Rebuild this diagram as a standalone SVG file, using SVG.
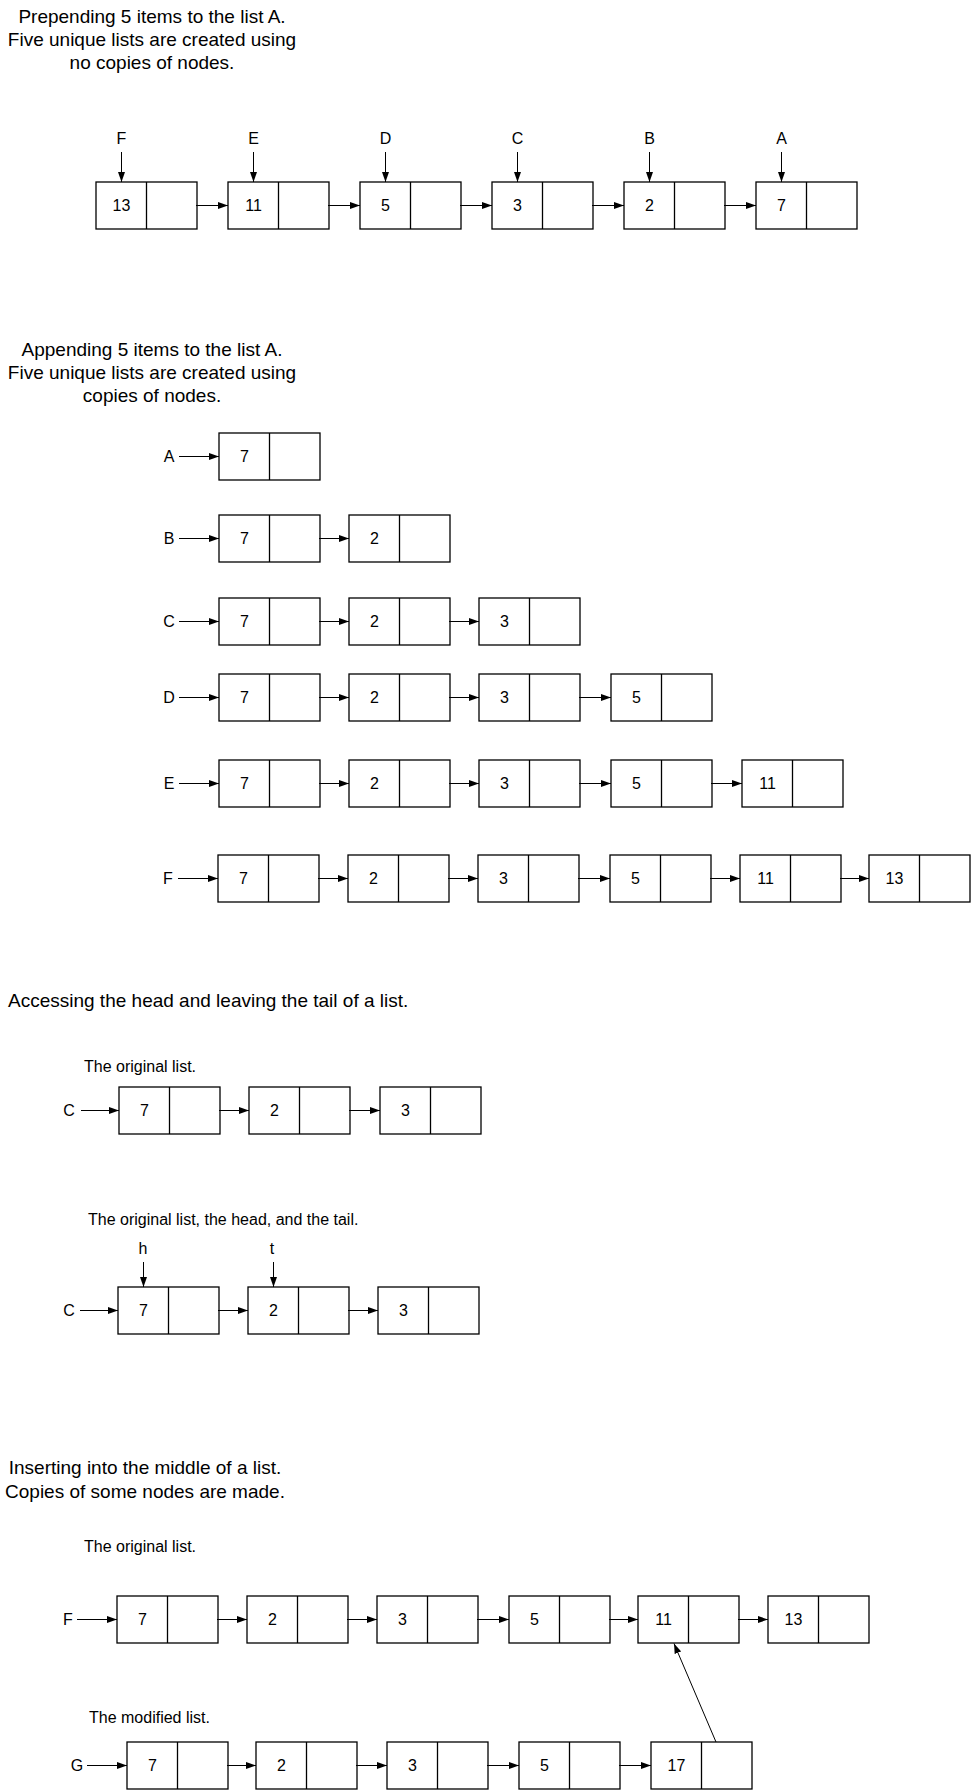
<svg xmlns="http://www.w3.org/2000/svg" width="971" height="1790" viewBox="0 0 971 1790">
<defs>
<marker id="ah" markerWidth="11" markerHeight="8" refX="10" refY="4" orient="auto" markerUnits="userSpaceOnUse">
<path d="M0,0.5 L10,4 L0,7.5 z" fill="#000"/>
</marker>
<style>
text{font-family:"Liberation Sans",Arial,Helvetica,sans-serif;fill:#000}
.t{font-size:19px}
.s{font-size:16px}
.n rect{fill:#fff;stroke:#000;stroke-width:1.3}
.n line{stroke:#000;stroke-width:1.3}
.n text{font-size:16px;text-anchor:middle}
.lbl{font-size:16px;text-anchor:middle}
.c line{stroke:#000;stroke-width:1;marker-end:url(#ah)}
</style>
</defs>
<rect width="971" height="1790" fill="#fff"/>

<!-- Titles -->
<g id="titles">
<text class="t" x="152" y="23" text-anchor="middle">Prepending 5 items to the list A.</text>
<text class="t" x="152" y="46" text-anchor="middle">Five unique lists are created using</text>
<text class="t" x="152" y="69" text-anchor="middle">no copies of nodes.</text>
<text class="t" x="152" y="356" text-anchor="middle">Appending 5 items to the list A.</text>
<text class="t" x="152" y="379" text-anchor="middle">Five unique lists are created using</text>
<text class="t" x="152" y="402" text-anchor="middle">copies of nodes.</text>
<text class="t" x="8" y="1007">Accessing the head and leaving the tail of a list.</text>
<text class="s" x="84" y="1072">The original list.</text>
<text class="s" x="88" y="1225">The original list, the head, and the tail.</text>
<text class="t" x="145" y="1474" text-anchor="middle">Inserting into the middle of a list.</text>
<text class="t" x="145" y="1498" text-anchor="middle">Copies of some nodes are made.</text>
<text class="s" x="84" y="1552">The original list.</text>
<text class="s" x="89" y="1723">The modified list.</text>
</g>

<!-- Section 1 -->
<g id="s1-labels">
<text class="lbl" x="121.5" y="144">F</text>
<text class="lbl" x="253.5" y="144">E</text>
<text class="lbl" x="385.5" y="144">D</text>
<text class="lbl" x="517.5" y="144">C</text>
<text class="lbl" x="649.5" y="144">B</text>
<text class="lbl" x="781.5" y="144">A</text>
</g>
<g id="s1-n13" class="n" transform="translate(96,182)"><rect width="101" height="47"/><line x1="50.5" y1="0" x2="50.5" y2="47"/><text x="25.5" y="29">13</text></g>
<g id="s1-n11" class="n" transform="translate(228,182)"><rect width="101" height="47"/><line x1="50.5" y1="0" x2="50.5" y2="47"/><text x="25.5" y="29">11</text></g>
<g id="s1-n5" class="n" transform="translate(360,182)"><rect width="101" height="47"/><line x1="50.5" y1="0" x2="50.5" y2="47"/><text x="25.5" y="29">5</text></g>
<g id="s1-n3" class="n" transform="translate(492,182)"><rect width="101" height="47"/><line x1="50.5" y1="0" x2="50.5" y2="47"/><text x="25.5" y="29">3</text></g>
<g id="s1-n2" class="n" transform="translate(624,182)"><rect width="101" height="47"/><line x1="50.5" y1="0" x2="50.5" y2="47"/><text x="25.5" y="29">2</text></g>
<g id="s1-n7" class="n" transform="translate(756,182)"><rect width="101" height="47"/><line x1="50.5" y1="0" x2="50.5" y2="47"/><text x="25.5" y="29">7</text></g>

<!-- Section 2 -->
<g id="s2-labels">
<text class="lbl" x="169" y="461.5">A</text>
<text class="lbl" x="169" y="543.5">B</text>
<text class="lbl" x="169" y="626.5">C</text>
<text class="lbl" x="169" y="702.5">D</text>
<text class="lbl" x="169" y="788.5">E</text>
<text class="lbl" x="168" y="883.5">F</text>
</g>
<g id="s2-A1" class="n" transform="translate(219,433)"><rect width="101" height="47"/><line x1="50.5" y1="0" x2="50.5" y2="47"/><text x="25.5" y="29">7</text></g>

<g id="s2-B1" class="n" transform="translate(219,515)"><rect width="101" height="47"/><line x1="50.5" y1="0" x2="50.5" y2="47"/><text x="25.5" y="29">7</text></g>
<g id="s2-B2" class="n" transform="translate(349,515)"><rect width="101" height="47"/><line x1="50.5" y1="0" x2="50.5" y2="47"/><text x="25.5" y="29">2</text></g>

<g id="s2-C1" class="n" transform="translate(219,598)"><rect width="101" height="47"/><line x1="50.5" y1="0" x2="50.5" y2="47"/><text x="25.5" y="29">7</text></g>
<g id="s2-C2" class="n" transform="translate(349,598)"><rect width="101" height="47"/><line x1="50.5" y1="0" x2="50.5" y2="47"/><text x="25.5" y="29">2</text></g>
<g id="s2-C3" class="n" transform="translate(479,598)"><rect width="101" height="47"/><line x1="50.5" y1="0" x2="50.5" y2="47"/><text x="25.5" y="29">3</text></g>

<g id="s2-D1" class="n" transform="translate(219,674)"><rect width="101" height="47"/><line x1="50.5" y1="0" x2="50.5" y2="47"/><text x="25.5" y="29">7</text></g>
<g id="s2-D2" class="n" transform="translate(349,674)"><rect width="101" height="47"/><line x1="50.5" y1="0" x2="50.5" y2="47"/><text x="25.5" y="29">2</text></g>
<g id="s2-D3" class="n" transform="translate(479,674)"><rect width="101" height="47"/><line x1="50.5" y1="0" x2="50.5" y2="47"/><text x="25.5" y="29">3</text></g>
<g id="s2-D4" class="n" transform="translate(611,674)"><rect width="101" height="47"/><line x1="50.5" y1="0" x2="50.5" y2="47"/><text x="25.5" y="29">5</text></g>

<g id="s2-E1" class="n" transform="translate(219,760)"><rect width="101" height="47"/><line x1="50.5" y1="0" x2="50.5" y2="47"/><text x="25.5" y="29">7</text></g>
<g id="s2-E2" class="n" transform="translate(349,760)"><rect width="101" height="47"/><line x1="50.5" y1="0" x2="50.5" y2="47"/><text x="25.5" y="29">2</text></g>
<g id="s2-E3" class="n" transform="translate(479,760)"><rect width="101" height="47"/><line x1="50.5" y1="0" x2="50.5" y2="47"/><text x="25.5" y="29">3</text></g>
<g id="s2-E4" class="n" transform="translate(611,760)"><rect width="101" height="47"/><line x1="50.5" y1="0" x2="50.5" y2="47"/><text x="25.5" y="29">5</text></g>
<g id="s2-E5" class="n" transform="translate(742,760)"><rect width="101" height="47"/><line x1="50.5" y1="0" x2="50.5" y2="47"/><text x="25.5" y="29">11</text></g>

<g id="s2-F1" class="n" transform="translate(218,855)"><rect width="101" height="47"/><line x1="50.5" y1="0" x2="50.5" y2="47"/><text x="25.5" y="29">7</text></g>
<g id="s2-F2" class="n" transform="translate(348,855)"><rect width="101" height="47"/><line x1="50.5" y1="0" x2="50.5" y2="47"/><text x="25.5" y="29">2</text></g>
<g id="s2-F3" class="n" transform="translate(478,855)"><rect width="101" height="47"/><line x1="50.5" y1="0" x2="50.5" y2="47"/><text x="25.5" y="29">3</text></g>
<g id="s2-F4" class="n" transform="translate(610,855)"><rect width="101" height="47"/><line x1="50.5" y1="0" x2="50.5" y2="47"/><text x="25.5" y="29">5</text></g>
<g id="s2-F5" class="n" transform="translate(740,855)"><rect width="101" height="47"/><line x1="50.5" y1="0" x2="50.5" y2="47"/><text x="25.5" y="29">11</text></g>
<g id="s2-F6" class="n" transform="translate(869,855)"><rect width="101" height="47"/><line x1="50.5" y1="0" x2="50.5" y2="47"/><text x="25.5" y="29">13</text></g>

<!-- Section 3 -->
<g id="s3-labels">
<text class="lbl" x="69" y="1116">C</text>
<text class="lbl" x="143" y="1254">h</text>
<text class="lbl" x="272" y="1254">t</text>
<text class="lbl" x="69" y="1316">C</text>
</g>
<g id="s3-a1" class="n" transform="translate(119,1087)"><rect width="101" height="47"/><line x1="50.5" y1="0" x2="50.5" y2="47"/><text x="25.5" y="29">7</text></g>
<g id="s3-a2" class="n" transform="translate(249,1087)"><rect width="101" height="47"/><line x1="50.5" y1="0" x2="50.5" y2="47"/><text x="25.5" y="29">2</text></g>
<g id="s3-a3" class="n" transform="translate(380,1087)"><rect width="101" height="47"/><line x1="50.5" y1="0" x2="50.5" y2="47"/><text x="25.5" y="29">3</text></g>
<g id="s3-b1" class="n" transform="translate(118,1287)"><rect width="101" height="47"/><line x1="50.5" y1="0" x2="50.5" y2="47"/><text x="25.5" y="29">7</text></g>
<g id="s3-b2" class="n" transform="translate(248,1287)"><rect width="101" height="47"/><line x1="50.5" y1="0" x2="50.5" y2="47"/><text x="25.5" y="29">2</text></g>
<g id="s3-b3" class="n" transform="translate(378,1287)"><rect width="101" height="47"/><line x1="50.5" y1="0" x2="50.5" y2="47"/><text x="25.5" y="29">3</text></g>

<!-- Section 4 -->
<g id="s4-labels">
<text class="lbl" x="68" y="1625">F</text>
<text class="lbl" x="77" y="1771">G</text>
</g>
<g id="s4-f1" class="n" transform="translate(117,1596)"><rect width="101" height="47"/><line x1="50.5" y1="0" x2="50.5" y2="47"/><text x="25.5" y="29">7</text></g>
<g id="s4-f2" class="n" transform="translate(247,1596)"><rect width="101" height="47"/><line x1="50.5" y1="0" x2="50.5" y2="47"/><text x="25.5" y="29">2</text></g>
<g id="s4-f3" class="n" transform="translate(377,1596)"><rect width="101" height="47"/><line x1="50.5" y1="0" x2="50.5" y2="47"/><text x="25.5" y="29">3</text></g>
<g id="s4-f4" class="n" transform="translate(509,1596)"><rect width="101" height="47"/><line x1="50.5" y1="0" x2="50.5" y2="47"/><text x="25.5" y="29">5</text></g>
<g id="s4-f5" class="n" transform="translate(638,1596)"><rect width="101" height="47"/><line x1="50.5" y1="0" x2="50.5" y2="47"/><text x="25.5" y="29">11</text></g>
<g id="s4-f6" class="n" transform="translate(768,1596)"><rect width="101" height="47"/><line x1="50.5" y1="0" x2="50.5" y2="47"/><text x="25.5" y="29">13</text></g>
<g id="s4-g1" class="n" transform="translate(127,1742)"><rect width="101" height="47"/><line x1="50.5" y1="0" x2="50.5" y2="47"/><text x="25.5" y="29">7</text></g>
<g id="s4-g2" class="n" transform="translate(256,1742)"><rect width="101" height="47"/><line x1="50.5" y1="0" x2="50.5" y2="47"/><text x="25.5" y="29">2</text></g>
<g id="s4-g3" class="n" transform="translate(387,1742)"><rect width="101" height="47"/><line x1="50.5" y1="0" x2="50.5" y2="47"/><text x="25.5" y="29">3</text></g>
<g id="s4-g4" class="n" transform="translate(519,1742)"><rect width="101" height="47"/><line x1="50.5" y1="0" x2="50.5" y2="47"/><text x="25.5" y="29">5</text></g>
<g id="s4-g5" class="n" transform="translate(651,1742)"><rect width="101" height="47"/><line x1="50.5" y1="0" x2="50.5" y2="47"/><text x="25.5" y="29">17</text></g>

<!-- Connectors -->
<g id="connectors" class="c">
<line x1="121.5" y1="152" x2="121.5" y2="182"/>
<line x1="253.5" y1="152" x2="253.5" y2="182"/>
<line x1="385.5" y1="152" x2="385.5" y2="182"/>
<line x1="517.5" y1="152" x2="517.5" y2="182"/>
<line x1="649.5" y1="152" x2="649.5" y2="182"/>
<line x1="781.5" y1="152" x2="781.5" y2="182"/>
<line x1="196" y1="205.5" x2="228" y2="205.5"/>
<line x1="328" y1="205.5" x2="360" y2="205.5"/>
<line x1="460" y1="205.5" x2="492" y2="205.5"/>
<line x1="592" y1="205.5" x2="624" y2="205.5"/>
<line x1="724" y1="205.5" x2="756" y2="205.5"/>
<line x1="179" y1="456.5" x2="219" y2="456.5"/>
<line x1="179" y1="538.5" x2="219" y2="538.5"/>
<line x1="319" y1="538.5" x2="349" y2="538.5"/>
<line x1="179" y1="621.5" x2="219" y2="621.5"/>
<line x1="319" y1="621.5" x2="349" y2="621.5"/>
<line x1="449" y1="621.5" x2="479" y2="621.5"/>
<line x1="179" y1="697.5" x2="219" y2="697.5"/>
<line x1="319" y1="697.5" x2="349" y2="697.5"/>
<line x1="449" y1="697.5" x2="479" y2="697.5"/>
<line x1="579" y1="697.5" x2="611" y2="697.5"/>
<line x1="179" y1="783.5" x2="219" y2="783.5"/>
<line x1="319" y1="783.5" x2="349" y2="783.5"/>
<line x1="449" y1="783.5" x2="479" y2="783.5"/>
<line x1="579" y1="783.5" x2="611" y2="783.5"/>
<line x1="711" y1="783.5" x2="742" y2="783.5"/>
<line x1="178" y1="878.5" x2="218" y2="878.5"/>
<line x1="318" y1="878.5" x2="348" y2="878.5"/>
<line x1="448" y1="878.5" x2="478" y2="878.5"/>
<line x1="578" y1="878.5" x2="610" y2="878.5"/>
<line x1="710" y1="878.5" x2="740" y2="878.5"/>
<line x1="840" y1="878.5" x2="869" y2="878.5"/>
<line x1="81" y1="1110.5" x2="119" y2="1110.5"/>
<line x1="219" y1="1110.5" x2="249" y2="1110.5"/>
<line x1="349" y1="1110.5" x2="380" y2="1110.5"/>
<line x1="143.5" y1="1262" x2="143.5" y2="1287"/>
<line x1="273.5" y1="1262" x2="273.5" y2="1287"/>
<line x1="80" y1="1310.5" x2="118" y2="1310.5"/>
<line x1="218" y1="1310.5" x2="248" y2="1310.5"/>
<line x1="348" y1="1310.5" x2="378" y2="1310.5"/>
<line x1="77" y1="1619.5" x2="117" y2="1619.5"/>
<line x1="217" y1="1619.5" x2="247" y2="1619.5"/>
<line x1="347" y1="1619.5" x2="377" y2="1619.5"/>
<line x1="477" y1="1619.5" x2="509" y2="1619.5"/>
<line x1="609" y1="1619.5" x2="638" y2="1619.5"/>
<line x1="738" y1="1619.5" x2="768" y2="1619.5"/>
<line x1="87" y1="1765.5" x2="127" y2="1765.5"/>
<line x1="227" y1="1765.5" x2="256" y2="1765.5"/>
<line x1="356" y1="1765.5" x2="387" y2="1765.5"/>
<line x1="487" y1="1765.5" x2="519" y2="1765.5"/>
<line x1="619" y1="1765.5" x2="651" y2="1765.5"/>
<line x1="716" y1="1742" x2="674" y2="1643.5"/>
</g>
</svg>
